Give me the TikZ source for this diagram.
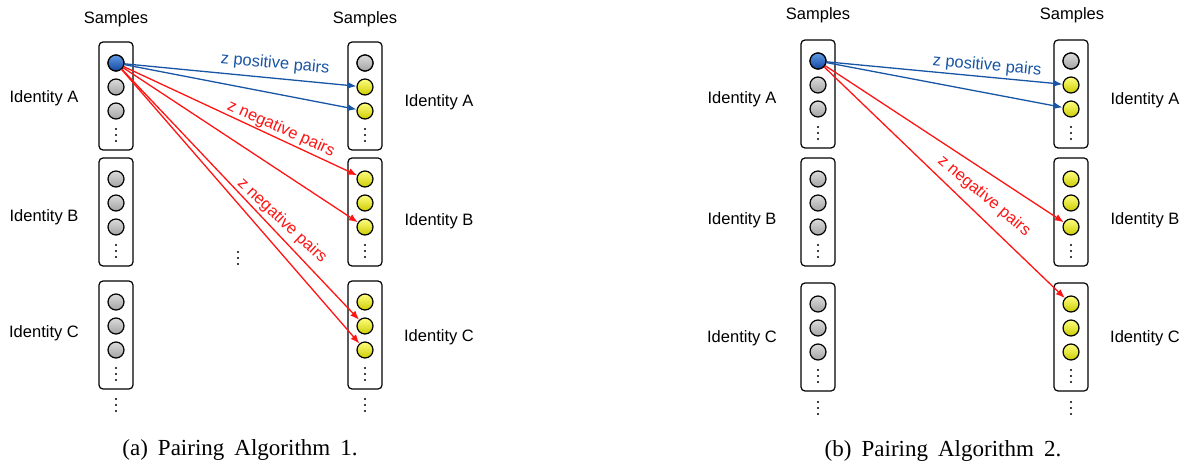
\documentclass[tikz,border=0pt]{standalone}
\usepackage{fontspec}
\setmainfont{Liberation Serif}
\setsansfont{Liberation Sans}
\newfontfamily\capfont[WordSpace=1.75]{Liberation Serif}
\usepackage{tikz}
\usetikzlibrary{arrows.meta,positioning,calc}
\definecolor{pairBlue}{RGB}{25,85,165}
\definecolor{pairRed}{RGB}{255,20,20}
\definecolor{ballBlueTop}{RGB}{95,155,230}
\definecolor{ballBlueBot}{RGB}{20,70,160}
\newcommand{\vdts}[2]{\foreach \dd in {-6,0,6}{\fill (#1,{#2+\dd}) circle (1.1pt);}}

\begin{document}
\begin{tikzpicture}[x=1pt,y=-1pt,
  sbox/.style={draw,line width=1.2pt,rounded corners=4pt,minimum width=34pt,minimum height=108pt,inner sep=0pt},
  smp/.style={circle,draw,line width=1.2pt,minimum size=16pt,inner sep=0pt,top color=gray!28,bottom color=gray!72},
  smpY/.style={smp,top color=yellow!50!white,bottom color=yellow!80!black},
  smpB/.style={smp,top color=ballBlueTop,bottom color=ballBlueBot},
  idlbl/.style={font=\sffamily\fontsize{16.5}{18}\selectfont},
  pairlbl/.style={font=\sffamily\fontsize{16.5}{18}\selectfont,inner sep=1pt},
  caplbl/.style={font=\capfont\fontsize{23}{26}\selectfont},
  pospair/.style={-{Latex[length=9pt,width=7pt]},pairBlue,line width=1.3pt},
  negpair/.style={-{Latex[length=9pt,width=7pt]},pairRed,line width=1.3pt}]
  \useasboundingbox (0,0) rectangle (1186,465);

  % (a) Pairing Algorithm 1
  \node[idlbl] (aL-head) at (116,19) {Samples};
  \node[idlbl] (aR-head) at (365,19) {Samples};
  \foreach \id/\yt in {A/42,B/158,C/281}{
    \node[sbox] (aL-\id) at (116,{\yt+54}) {};
    \node[sbox] (aR-\id) at (365,{\yt+54}) {};
    \foreach \k in {1,2,3}{
      \node[smp] (aL-\id\k) at (116,{\yt-3+24*\k}) {};
      \node[smpY] (aR-\id\k) at (365,{\yt-3+24*\k}) {};
    }
    \vdts{116}{\yt+93}
    \vdts{365}{\yt+93}
  }
  \node[smpB] (aL-A1) at (116,63) {};
  \node[smp] (aR-A1) at (365,63) {};
  \vdts{116}{405}
  \vdts{365}{405}
  \vdts{238}{258}
  \node[idlbl] (aL-idA) at (44,98) {Identity A};
  \node[idlbl] (aL-idB) at (44,217) {Identity B};
  \node[idlbl] (aL-idC) at (44,333) {Identity C};
  \node[idlbl] (aR-idA) at (439,102) {Identity A};
  \node[idlbl] (aR-idB) at (439,221) {Identity B};
  \node[idlbl] (aR-idC) at (439,337) {Identity C};

  \draw[pospair] (aL-A1) -- (aR-A2);
  \draw[pospair] (aL-A1) -- (aR-A3);
  \draw[negpair] (aL-A1) -- (aR-B1);
  \draw[negpair] (aL-A1) -- (aR-B3);
  \draw[negpair] (aL-A1) -- (aR-C2);
  \draw[negpair] (aL-A1) -- (aR-C3);
  \node[pairlbl,pairBlue,rotate=-5.5] (aPos) at (275,64) {z positive pairs};
  \node[pairlbl,pairRed,rotate=-24] (aNeg1) at (281,129) {z negative pairs};
  \node[pairlbl,pairRed,rotate=-43] (aNeg2) at (282,221) {z negative pairs};
  \node[caplbl] (aCap) at (240,450) {(a) Pairing Algorithm 1.};

  % (b) Pairing Algorithm 2
  \node[idlbl] (bL-head) at (818,15) {Samples};
  \node[idlbl] (bR-head) at (1072,15) {Samples};
  \foreach \id/\yt in {A/40,B/158,C/283}{
    \node[sbox] (bL-\id) at (818,{\yt+54}) {};
    \node[sbox] (bR-\id) at (1071,{\yt+54}) {};
    \foreach \k in {1,2,3}{
      \node[smp] (bL-\id\k) at (818,{\yt-3+24*\k}) {};
      \node[smpY] (bR-\id\k) at (1071,{\yt-3+24*\k}) {};
    }
    \vdts{818}{\yt+93}
    \vdts{1071}{\yt+93}
  }
  \node[smpB] (bL-A1) at (818,61) {};
  \node[smp] (bR-A1) at (1071,61) {};
  \vdts{818}{408}
  \vdts{1071}{408}
  \node[idlbl] (bL-idA) at (742,99) {Identity A};
  \node[idlbl] (bL-idB) at (742,220) {Identity B};
  \node[idlbl] (bL-idC) at (742,338) {Identity C};
  \node[idlbl] (bR-idA) at (1145,100) {Identity A};
  \node[idlbl] (bR-idB) at (1145,220) {Identity B};
  \node[idlbl] (bR-idC) at (1145,338) {Identity C};

  \draw[pospair] (bL-A1) -- (bR-A2);
  \draw[pospair] (bL-A1) -- (bR-A3);
  \draw[negpair] (bL-A1) -- (bR-B3);
  \draw[negpair] (bL-A1) -- (bR-C1);
  \node[pairlbl,pairBlue,rotate=-5.5] (bPos) at (987,66) {z positive pairs};
  \node[pairlbl,pairRed,rotate=-40] (bNeg) at (984,196) {z negative pairs};
  \node[caplbl] (bCap) at (943,451) {(b) Pairing Algorithm 2.};
\end{tikzpicture}
\end{document}
